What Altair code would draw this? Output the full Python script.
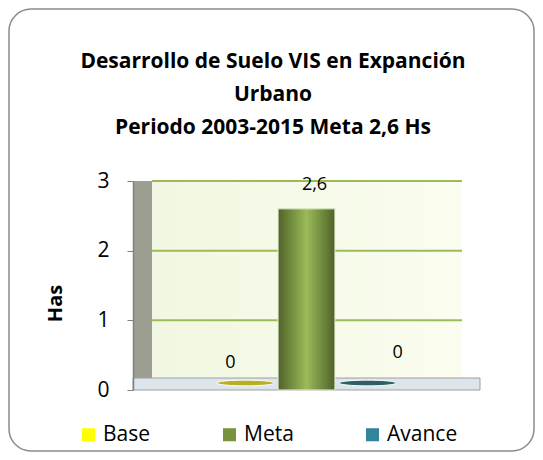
import altair as alt
import pandas as pd

categories = ["Base", "Meta", "Avance"]
values = [0, 2.6, 0]
value_labels = ["0", "2,6", "0"]
colors = ["#FFFF00", "#77933C", "#31849B"]
ellipse_colors = ["#B8B020", "#77933C", "#2E5E66"]
y_ticks = [0, 1, 2, 3]
title_lines = ["Desarrollo de Suelo VIS en Expanción", "Urbano", "Periodo 2003-2015 Meta 2,6 Hs"]

df = pd.DataFrame({"cat": categories, "val": values, "lab": value_labels, "ecol": ellipse_colors})

W, H = 347, 209
FONT = "Open Sans"

xenc = alt.X("cat:N", sort=categories, axis=None,
             scale=alt.Scale(domain=categories, paddingInner=0.07, paddingOuter=0, range=[84, 263]))
yscale = alt.Scale(domain=[0, 3], nice=False)

one = alt.Data(values=[{"a": 1}])

border = alt.Chart(one).mark_rect(filled=False, stroke="#8C8C8C", strokeWidth=1.5, cornerRadius=22).encode(
    x=alt.value(-124), x2=alt.value(401), y=alt.value(-172), y2=alt.value(270))

title = alt.Chart(one).mark_text(text=title_lines, font=FONT, fontSize=21, fontWeight="bold",
                                 color="black", align="center", baseline="alphabetic",
                                 lineHeight=33).encode(x=alt.value(140), y=alt.value(-113))

wall = alt.Chart(one).mark_rect(
    color=alt.Gradient(gradient="linear", x1=0, x2=1, y1=0, y2=0,
                       stops=[alt.GradientStop(color="#F1F7E2", offset=0),
                              alt.GradientStop(color="#FBFDEF", offset=1)])).encode(
    x=alt.value(19), x2=alt.value(W - 18), y=alt.value(0), y2=alt.value(H - 12))

sidewall = alt.Chart(one).mark_rect(color="#9C9E92").encode(
    x=alt.value(0), x2=alt.value(19), y=alt.value(0), y2=alt.value(H))

floor = alt.Chart(one).mark_rect(color="#DCE4EC", stroke="#A0A0A0", strokeWidth=1).encode(
    x=alt.value(0), x2=alt.value(W), y=alt.value(H - 12), y2=alt.value(H))

grid = alt.Chart(pd.DataFrame({"t": y_ticks[1:]})).mark_rule(color="#9BBB59", strokeWidth=2).encode(
    y=alt.Y("t:Q", scale=yscale), x=alt.value(19), x2=alt.value(W - 18))

bars = alt.Chart(df).mark_bar().encode(
    x=xenc,
    y=alt.Y("val:Q", scale=yscale,
            axis=alt.Axis(values=y_ticks, format="d", title="Has", grid=False, zindex=2,
                          labelFontSize=21, labelFont=FONT, labelColor="black", labelPadding=18,
                          tickColor="#808080", tickSize=6, domainColor="#808080", domainWidth=1.5,
                          titleFont=FONT, titleFontSize=20, titleFontWeight="bold", titleColor="black",
                          titleAngle=-90, titleX=-78, titleY=122, titleAlign="center",
                          titleBaseline="middle")),
    color=alt.Color("cat:N", sort=categories,
                    scale=alt.Scale(domain=categories, range=colors),
                    legend=alt.Legend(title=None, orient="none", direction="horizontal", columns=3,
                                      legendX=-55, legendY=243, symbolType="square", symbolSize=170,
                                      symbolStrokeWidth=0, symbolOpacity=1, labelFontSize=21,
                                      labelFont=FONT, labelColor="black", columnPadding=68,
                                      labelOffset=4)))

meta_bar = alt.Chart(df).transform_filter(alt.datum.cat == "Meta").mark_bar(
    color=alt.Gradient(gradient="linear", x1=0, x2=1, y1=0, y2=0,
                       stops=[alt.GradientStop(color="#4F6228", offset=0),
                              alt.GradientStop(color="#9BBB59", offset=0.5),
                              alt.GradientStop(color="#4F6228", offset=1)]),
    stroke="#E8EED8", strokeWidth=1).encode(x=xenc, y=alt.Y("val:Q", scale=yscale))

ellipse = alt.Chart(df).transform_filter(alt.datum.val == 0).mark_point(
    shape="M -1 0 A 1 0.1 0 1 0 1 0 A 1 0.1 0 1 0 -1 0", size=3300, filled=True, opacity=1,
    yOffset=-7, stroke="white", strokeWidth=1).encode(
    x=xenc, y=alt.Y("val:Q", scale=yscale), color=alt.Color("ecol:N", scale=None, legend=None))

def label(cat, dx, dy):
    return alt.Chart(df).transform_filter(alt.datum.cat == cat).mark_text(
        font=FONT, fontSize=18, color="black", dx=dx, dy=dy).encode(
        x=xenc, y=alt.Y("val:Q", scale=yscale), text="lab:N")

chart = alt.layer(border, title, wall, sidewall, floor, grid, bars, meta_bar, ellipse,
                  label("Base", -15, -27), label("Meta", 8, -24), label("Avance", 30, -37)).properties(
    width=W, height=H,
    autosize=alt.AutoSizeParams(type="none"),
    padding={"left": 125, "top": 173, "right": 55, "bottom": 62},
).configure_view(stroke=None)

chart.save("out.html", embed_options={"renderer": "svg", "actions": False})
